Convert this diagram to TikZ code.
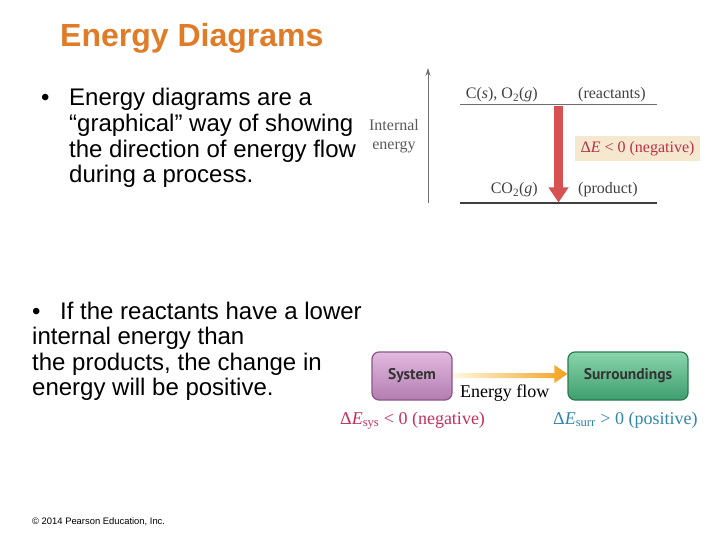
\documentclass[tikz,border=0pt]{standalone}
\usepackage{fontspec}
\setmainfont{Liberation Sans}
\newfontfamily\serif{Liberation Serif}
\newfontfamily\boxfont{PT Sans}
\usetikzlibrary{arrows.meta,calc}
\definecolor{titleor}{HTML}{E07B28}
\definecolor{axisgray}{HTML}{6E6E6E}
\definecolor{labgray}{HTML}{5A5A5A}
\definecolor{redarr}{HTML}{D65252}
\definecolor{beige}{HTML}{F6E7CF}
\definecolor{dered}{HTML}{B8324A}
\definecolor{sysred}{HTML}{C4305C}
\definecolor{surrblue}{HTML}{2F86A8}
\definecolor{purpA}{HTML}{E2B9DF}
\definecolor{purpB}{HTML}{B27DB0}
\definecolor{purpD}{HTML}{8A5689}
\definecolor{greenA}{HTML}{8AD5AB}
\definecolor{greenB}{HTML}{3E9E6E}
\definecolor{greenD}{HTML}{2C7A52}
\definecolor{flowA}{HTML}{FFF7E0}
\definecolor{flowB}{HTML}{F4A11E}
\begin{document}
\begin{tikzpicture}[x=1pt,y=-1pt,
  body/.style={anchor=base west, inner sep=0, font=\fontsize{24}{27}\selectfont},
  lab/.style={inner sep=0, font=\serif\fontsize{16}{18}\selectfont, text=labgray},
  lab2/.style={inner sep=0, anchor=base west, font=\serif\fontsize{18}{20}\selectfont},
  level/.style={draw=axisgray, line width=1pt},
  boxst/.style={rounded corners=7pt, minimum width=80pt, minimum height=48pt, line width=1.2pt,
    font=\boxfont\bfseries\fontsize{15.5}{18}\selectfont, text=black!80}
]
\useasboundingbox (0,0) rectangle (720,540);

% title
\node[anchor=base west, inner sep=0, font=\fontsize{32}{36}\selectfont\bfseries, text=titleor] (title) at (60,47) {Energy Diagrams};

% bullet 1
\node[body] (bul1) at (41,106) {•};
\node[body] (b1a) at (69,106) {Energy diagrams are a};
\node[body] (b1b) at (69,132) {“graphical” way of showing};
\node[body] (b1c) at (69,158) {the direction of energy flow};
\node[body] (b1d) at (69,183) {during a process.};

% bullet 2
\node[body] (bul2) at (32,319) {•};
\node[body] (b2a) at (60,319) {If the reactants have a lower};
\node[body] (b2b) at (32,344) {internal energy than};
\node[body] (b2c) at (32,370) {the products, the change in};
\node[body] (b2d) at (32,395) {energy will be positive.};

% copyright
\node[anchor=base west, inner sep=0, font=\fontsize{9.4}{11}\selectfont] (copy) at (32,524) {© 2014 Pearson Education, Inc.};

% energy level diagram
\coordinate (ax0) at (428,203);
\coordinate (ax1) at (428,68);
\draw[draw=axisgray, line width=0.8pt, -{Stealth[length=8pt,width=5pt]}] (ax0) -- (ax1);
\node[lab, anchor=base] (int1) at (394,131) {Internal};
\node[lab, anchor=base] (int2) at (394,150) {energy};

\coordinate (rl0) at (460,105);
\coordinate (rl1) at (657,105);
\draw[level] (rl0) -- (rl1);
\coordinate (pl0) at (460,203);
\coordinate (pl1) at (657,203);
\draw[level, draw=black!75, line width=1.8pt] (pl0) -- (pl1);

\node[lab, anchor=base east, text=black!75] (reac) at (538,99) {C(\textit{s}), O\textsubscript{2}(\textit{g})};
\node[lab, anchor=base west, text=black!75] (reacl) at (578,99) {(reactants)};
\node[lab, anchor=base east, text=black!75] (prod) at (538,194) {CO\textsubscript{2}(\textit{g})};
\node[lab, anchor=base west, text=black!75] (prodl) at (578,194) {(product)};

\coordinate (ra0) at (558.5,106);
\coordinate (ra1) at (558.5,202.5);
\draw[draw=redarr, line width=9pt, -{Triangle[length=15pt,width=19pt]}] (ra0) -- (ra1);

\node[fill=beige, minimum width=125pt, minimum height=25pt, inner sep=0,
  font=\serif\fontsize{16}{18}\selectfont, text=dered] (dE) at (637.5,148.5)
  {Δ\textit{E} < 0 (negative)};

% system / surroundings
\node[boxst, top color=purpA, bottom color=purpB, draw=purpD] (sys) at (412,376) {System};
\node[boxst, minimum width=120pt, top color=greenA, bottom color=greenB, draw=greenD] (surr) at (628,376) {Surroundings};

\shade[left color=flowA, right color=flowB]
  ($(sys.east)+(1,-3)$) -- ($(surr.west)+(-13,-3)$) -- ($(surr.west)+(-13,-11)$) --
  ($(surr.west)+(0,-2)$) -- ($(surr.west)+(-13,7)$) -- ($(surr.west)+(-13,2)$) --
  ($(sys.east)+(1,2)$) -- cycle;

\node[lab2] (flow) at (460,397) {Energy flow};
\node[lab2, text=sysred] (dsys) at (340,424) {Δ\textit{E}\textsubscript{sys} < 0 (negative)};
\node[lab2, text=surrblue] (dsurr) at (553,424) {Δ\textit{E}\textsubscript{surr} > 0 (positive)};
\end{tikzpicture}
\end{document}
